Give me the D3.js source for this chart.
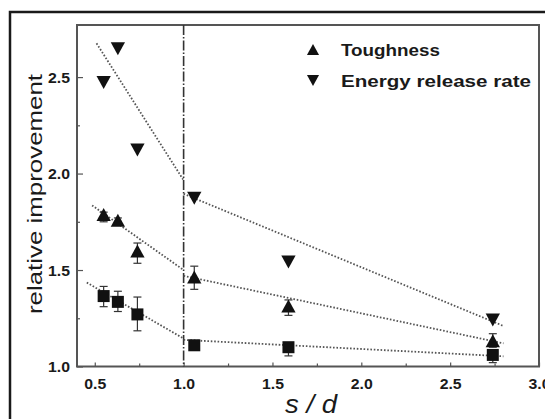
<!DOCTYPE html>
<html><head><meta charset="utf-8">
<script src="https://cdn.jsdelivr.net/npm/d3@7"></script>
<style>body{margin:0;background:#fff}svg{display:block}</style>
</head><body>
<svg id="chart" width="545" height="419"></svg>
<script>
const xValues = [0.55, 0.63, 0.74, 1.06, 1.59, 2.74];
const squareValues = [1.365, 1.335, 1.27, 1.11, 1.10, 1.06];
const squareErrors = [[1.31,1.415],[1.285,1.39],[1.185,1.36],[1.10,1.12],[1.055,1.12],[1.02,1.07]];
const toughnessValues = [1.785, 1.755, 1.595, 1.46, 1.31, 1.13];
const toughnessErrors = [[1.75,1.80],[1.735,1.77],[1.535,1.64],[1.40,1.52],[1.265,1.345],[1.10,1.17]];
const energyValues = [2.475, 2.65, 2.125, 1.875, 1.545, 1.245];
const energyTrend = [[[0.51,2.675],[1.0,1.965]], [[1.0,1.895],[2.8,1.21]]];
const toughnessTrend = [[[0.485,1.835],[1.0,1.50]], [[1.0,1.47],[2.8,1.12]]];
const squareTrend = [[[0.455,1.435],[1.0,1.145]], [[1.0,1.138],[2.8,1.053]]];
const xTicks = [0.5, 1.0, 1.5, 2.0, 2.5, 3.0];
const xMinor = [0.75, 1.25, 1.75, 2.25, 2.75];
const yTicks = [1.0, 1.5, 2.0, 2.5];
const yMinor = [1.25, 1.75, 2.25];
const legendLabels = ["Toughness", "Energy release rate"];
const xTitle = "s / d";
const yTitle = "relative improvement";

const svg = d3.select("#chart");
const L = 77, R = 539, T = 25, B = 366.5;
const x = d3.scaleLinear().domain([0.4, 3.0]).range([L, R]);
const y = d3.scaleLinear().domain([1.0, 2.77]).range([B, T]);

// outer frame (cut off at right/bottom)
svg.append("path").attr("d", "M10,430 L10,12 L560,12")
  .attr("fill", "none").attr("stroke", "#1a1a1a").attr("stroke-width", 2.5);

// axes with inward ticks
const fmt = d3.format(".1f");
const gx = svg.append("g").attr("transform", `translate(0,${B})`)
  .call(d3.axisBottom(x).tickValues(xTicks).tickFormat(fmt).tickSize(-4).tickPadding(12));
const gxm = svg.append("g").attr("transform", `translate(0,${B})`)
  .call(d3.axisBottom(x).tickValues(xMinor).tickFormat("").tickSize(-3));
const gy = svg.append("g").attr("transform", `translate(${L},0)`)
  .call(d3.axisLeft(y).tickValues(yTicks).tickFormat(fmt).tickSize(-6).tickPadding(7));
const gym = svg.append("g").attr("transform", `translate(${L},0)`)
  .call(d3.axisLeft(y).tickValues(yMinor).tickFormat("").tickSize(-3));
[gx, gxm, gy, gym].forEach(g => {
  g.select(".domain").remove();
  g.selectAll(".tick line").attr("stroke", "#555").attr("stroke-width", 1.2);
  g.selectAll(".tick text").attr("fill", "#1a1a1a").attr("font-family", "Liberation Sans, Arial, sans-serif")
    .attr("font-weight", "bold").attr("font-size", 14.5)
    .attr("textLength", 22).attr("lengthAdjust", "spacingAndGlyphs");
});
gy.selectAll(".tick text").attr("dy", "0.36em");

// plot box
svg.append("rect").attr("x", L).attr("y", T).attr("width", R - L).attr("height", B - T)
  .attr("fill", "none").attr("stroke", "#555").attr("stroke-width", 2);

// vertical dash-dot line at s/d = 1
svg.append("line").attr("x1", x(1.0)).attr("x2", x(1.0)).attr("y1", T).attr("y2", B)
  .attr("stroke", "#333").attr("stroke-width", 1.6).attr("stroke-dasharray", "10,2,1.5,2");

// trend lines
const line = d3.line().x(d => x(d[0])).y(d => y(d[1]));
[energyTrend, toughnessTrend, squareTrend].forEach(segs => segs.forEach(s => {
  svg.append("path").attr("d", line(s)).attr("fill", "none")
    .attr("stroke", "#555").attr("stroke-width", 1.8).attr("stroke-dasharray", "1.6,1.8");
}));

// error bars
function errBars(errs) {
  errs.forEach((e, i) => {
    const cx = x(xValues[i]);
    const g = svg.append("g").attr("stroke", "#333").attr("stroke-width", 1.2);
    g.append("line").attr("x1", cx).attr("x2", cx).attr("y1", y(e[0])).attr("y2", y(e[1]));
    g.append("line").attr("x1", cx - 4).attr("x2", cx + 4).attr("y1", y(e[0])).attr("y2", y(e[0]));
    g.append("line").attr("x1", cx - 4).attr("x2", cx + 4).attr("y1", y(e[1])).attr("y2", y(e[1]));
  });
}
errBars(squareErrors);
errBars(toughnessErrors);

const triUp = s => `M0,${-s*0.55} L${s*0.55},${s*0.45} L${-s*0.55},${s*0.45} Z`;
const triDown = s => `M0,${s*0.55} L${s*0.55},${-s*0.45} L${-s*0.55},${-s*0.45} Z`;

svg.selectAll(".sq").data(squareValues).join("rect").attr("class", "sq")
  .attr("x", (d, i) => x(xValues[i]) - 6).attr("y", d => y(d) - 6)
  .attr("width", 12).attr("height", 12).attr("fill", "#111");
svg.selectAll(".tu").data(toughnessValues).join("path").attr("class", "tu")
  .attr("d", triUp(13)).attr("transform", (d, i) => `translate(${x(xValues[i])},${y(d)})`).attr("fill", "#111");
svg.selectAll(".td").data(energyValues).join("path").attr("class", "td")
  .attr("d", triDown(13)).attr("transform", (d, i) => `translate(${x(xValues[i])},${y(d)})`).attr("fill", "#111");

// legend
const lg = svg.append("g");
lg.append("path").attr("d", triUp(11)).attr("transform", "translate(313,50)").attr("fill", "#111");
lg.append("path").attr("d", triDown(11)).attr("transform", "translate(313,80)").attr("fill", "#111");
const legLens = [99, 190];
legendLabels.forEach((t, i) => {
  lg.append("text").attr("x", 341).attr("y", 56 + i * 30.5).text(t)
    .attr("font-family", "Liberation Sans, Arial, sans-serif").attr("font-weight", "bold")
    .attr("font-size", 16.5).attr("fill", "#1a1a1a")
    .attr("textLength", legLens[i]).attr("lengthAdjust", "spacingAndGlyphs");
});

// axis titles
svg.append("text").attr("x", 311).attr("y", 413).attr("text-anchor", "middle")
  .attr("font-family", "Liberation Sans, Arial, sans-serif").attr("font-style", "italic")
  .attr("font-size", 26).attr("fill", "#1a1a1a").attr("textLength", 52).attr("lengthAdjust", "spacingAndGlyphs")
  .text(xTitle);
svg.append("text").attr("transform", "translate(42,194) rotate(-90)").attr("text-anchor", "middle")
  .attr("font-family", "Liberation Sans, Arial, sans-serif")
  .attr("font-size", 21).attr("fill", "#1a1a1a").attr("textLength", 240).attr("lengthAdjust", "spacingAndGlyphs")
  .text(yTitle);
</script>
</body></html>
